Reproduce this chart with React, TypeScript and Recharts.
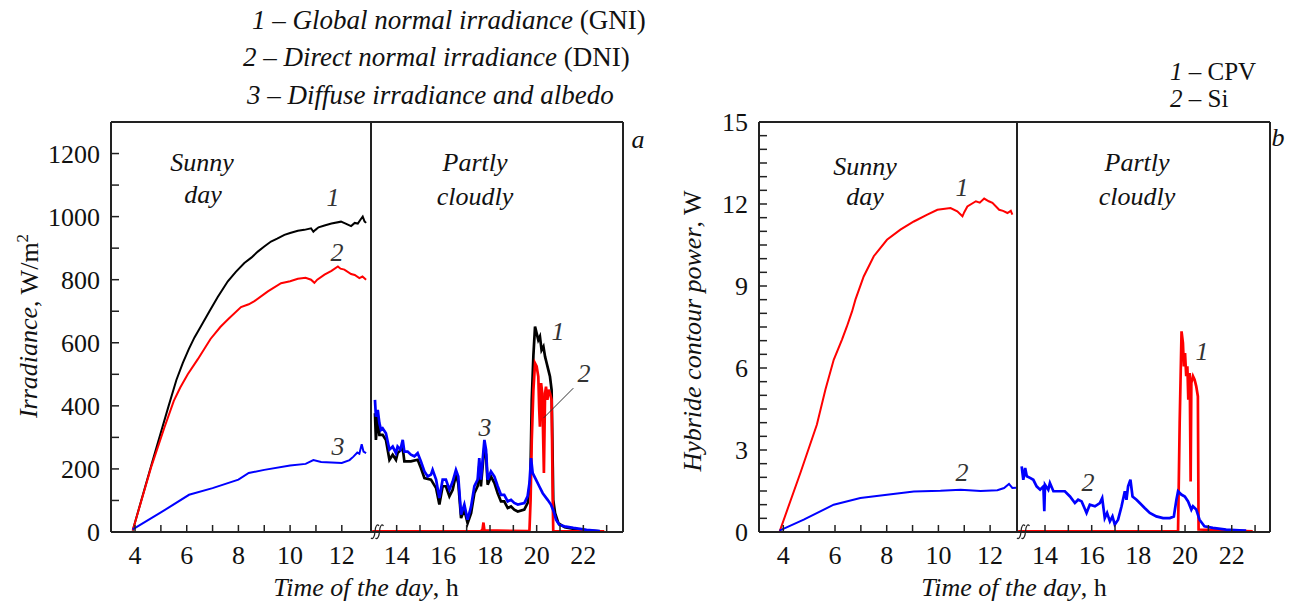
import { LineChart, Line, XAxis, YAxis, ReferenceLine } from 'recharts'

const FONT = '"Liberation Serif", "Times New Roman", serif'
const AXIS = '#222'

// panel a: irradiance, W/m2 — sunny day
const gniSunny = [
  [3.91, 5], [4.68, 226], [5.3, 400], [5.6, 482], [5.85, 536], [6.08, 580], [6.3, 617], [6.55, 652],
  [6.88, 700], [7.2, 745], [7.59, 795], [7.9, 825], [8.23, 853], [8.5, 870], [8.75, 889], [9.0, 905],
  [9.26, 921], [9.5, 930], [9.78, 942], [10.0, 948], [10.3, 955], [10.55, 958], [10.81, 963], [10.9, 952],
  [10.98, 958], [11.1, 966], [11.33, 972], [11.6, 978], [11.97, 984], [12.15, 978], [12.36, 970],
  [12.5, 980], [12.62, 978], [12.72, 990], [12.81, 1000], [12.88, 985], [12.94, 980],
]
const dniSunny = [
  [3.91, 5], [4.62, 205], [5.14, 332], [5.5, 416], [5.75, 458], [6.04, 500], [6.43, 548], [6.92, 612],
  [7.3, 650], [7.59, 674], [8.1, 713], [8.4, 722], [8.62, 732], [9.14, 763], [9.65, 789], [10.0, 795],
  [10.3, 803], [10.6, 806], [10.81, 800], [10.94, 790], [11.05, 800], [11.33, 816], [11.6, 828],
  [11.85, 842], [11.95, 835], [12.1, 832], [12.36, 818], [12.5, 815], [12.68, 805], [12.8, 810], [12.94, 800],
]
const difSunny = [
  [3.91, 8], [5.0, 62], [6.09, 118], [7.0, 139], [8.0, 166], [8.4, 187], [9.0, 197], [10.0, 211],
  [10.6, 216], [10.9, 228], [11.2, 222], [12.0, 219], [12.3, 228], [12.45, 239], [12.6, 252],
  [12.68, 248], [12.77, 278], [12.84, 255], [12.94, 250],
]

// panel a: partly cloudy day
const gniCloudy = [
  [13.07, 377], [13.11, 292], [13.19, 366], [13.26, 308], [13.4, 308], [13.54, 292], [13.69, 229],
  [13.83, 245], [13.97, 229], [14.04, 250], [14.26, 266], [14.33, 224], [14.61, 224], [14.9, 229],
  [15.04, 203], [15.19, 171], [15.47, 166], [15.69, 139], [15.83, 87], [15.97, 145], [16.11, 145],
  [16.26, 113], [16.4, 134], [16.54, 182], [16.64, 155], [16.76, 44], [16.9, 71], [17.04, 28],
  [17.19, 60], [17.33, 123], [17.47, 145], [17.54, 210], [17.61, 145], [17.76, 271], [17.83, 245],
  [17.9, 150], [18.04, 176], [18.19, 155], [18.33, 123], [18.47, 97], [18.61, 97], [18.76, 76],
  [18.9, 81], [19.04, 71], [19.19, 65], [19.47, 71], [19.61, 92], [19.73, 166], [19.79, 419],
  [19.86, 560], [19.93, 651], [20.0, 630], [20.07, 609], [20.14, 620], [20.21, 577], [20.29, 588],
  [20.36, 556], [20.43, 535], [20.5, 514], [20.57, 493], [20.64, 451], [20.69, 208], [20.71, 102],
  [20.79, 60], [20.93, 28], [21.2, 15], [21.6, 10], [22.1, 5], [22.7, 2],
]
const dniCloudy = [
  [12.95, 2], [17.6, 2], [17.68, 8], [17.72, 30], [17.76, 5], [19.69, 3], [19.74, 102], [19.79, 292],
  [19.86, 450], [19.93, 535], [20.0, 525], [20.07, 493], [20.11, 387], [20.14, 334], [20.19, 472],
  [20.24, 440], [20.31, 187], [20.36, 440], [20.4, 461], [20.46, 419], [20.51, 451], [20.57, 440],
  [20.64, 419], [20.69, 102], [20.71, 3], [22.9, 2],
]
const difCloudy = [
  [13.07, 419], [13.11, 366], [13.19, 387], [13.26, 345], [13.33, 324], [13.4, 329], [13.54, 313],
  [13.69, 261], [13.83, 271], [13.97, 250], [14.04, 271], [14.16, 261], [14.26, 292], [14.33, 255],
  [14.47, 255], [14.61, 245], [14.76, 240], [14.9, 250], [15.04, 224], [15.19, 192], [15.33, 176],
  [15.47, 182], [15.54, 197], [15.69, 166], [15.83, 108], [15.97, 166], [16.11, 166], [16.26, 134],
  [16.4, 160], [16.54, 197], [16.64, 176], [16.76, 55], [16.9, 87], [17.04, 39], [17.19, 81],
  [17.33, 145], [17.47, 166], [17.54, 234], [17.61, 166], [17.76, 292], [17.83, 261], [17.9, 166],
  [18.04, 192], [18.19, 176], [18.33, 145], [18.47, 118], [18.61, 118], [18.76, 97], [18.9, 102],
  [19.04, 92], [19.19, 87], [19.47, 92], [19.61, 113], [19.69, 155], [19.76, 234], [19.83, 187],
  [19.97, 166], [20.11, 145], [20.26, 123], [20.47, 102], [20.61, 87], [20.73, 65], [20.83, 39],
  [20.97, 23], [21.19, 18], [21.57, 13], [22.14, 7], [22.71, 3],
]

// panel b: hybrid contour power, W
const cpvSunny = [
  [3.85, 0], [4.66, 2.16], [5.3, 3.93], [5.63, 5.21], [5.95, 6.3], [6.27, 7.04], [6.46, 7.52],
  [6.66, 8.07], [6.79, 8.5], [7.11, 9.35], [7.5, 10.09], [8.01, 10.69], [8.53, 11.06], [9.05, 11.36],
  [9.57, 11.61], [9.96, 11.79], [10.47, 11.85], [10.73, 11.73], [10.93, 11.55], [11.0, 11.7],
  [11.12, 11.91], [11.45, 12.1], [11.6, 12.05], [11.77, 12.2], [11.95, 12.1], [12.09, 12.04],
  [12.35, 11.79], [12.5, 11.75], [12.67, 11.67], [12.8, 11.75], [12.86, 11.61],
]
const siSunny = [
  [3.85, 0.05], [4.79, 0.45], [5.95, 1.0], [6.98, 1.24], [8.01, 1.36], [9.05, 1.48], [10.08, 1.51],
  [10.86, 1.55], [11.63, 1.5], [12.28, 1.53], [12.54, 1.61], [12.73, 1.76], [12.86, 1.61], [13.0, 1.62],
]
const cpvCloudy = [
  [12.85, 0.02], [19.7, 0.02], [19.77, 3.99], [19.85, 7.34], [19.91, 6.91], [19.95, 6.06], [20.0, 6.55],
  [20.05, 5.7], [20.1, 6.06], [20.14, 4.84], [20.2, 5.82], [20.24, 1.85], [20.27, 5.45], [20.34, 5.7],
  [20.41, 5.57], [20.48, 5.33], [20.55, 4.96], [20.58, 0.09], [22.9, 0.02],
]
const siCloudy = [
  [13.0, 2.4], [13.07, 1.91], [13.15, 2.34], [13.22, 2.04], [13.36, 1.98], [13.5, 1.91], [13.64, 1.67],
  [13.79, 1.55], [13.93, 1.67], [13.97, 0.76], [14.0, 1.73], [14.14, 1.55], [14.21, 1.79], [14.36, 1.49],
  [14.57, 1.49], [14.85, 1.49], [15.07, 1.3], [15.28, 1.06], [15.42, 1.18], [15.57, 1.12], [15.78, 0.7],
  [15.92, 1.0], [16.14, 0.94], [16.35, 1.06], [16.45, 1.24], [16.56, 0.51], [16.66, 0.7], [16.78, 0.39],
  [16.89, 0.57], [16.99, 0.27], [17.13, 0.45], [17.28, 0.94], [17.42, 1.49], [17.49, 1.18], [17.56, 1.67],
  [17.66, 1.91], [17.75, 1.3], [17.92, 1.18], [18.06, 1.06], [18.27, 0.88], [18.49, 0.7], [18.77, 0.57],
  [19.06, 0.51], [19.35, 0.51], [19.52, 0.57], [19.63, 1.18], [19.7, 1.49], [19.84, 1.37], [19.99, 1.3],
  [20.13, 1.12], [20.27, 0.82], [20.34, 0.94], [20.48, 0.82], [20.62, 0.45], [20.83, 0.21], [21.19, 0.15],
  [21.76, 0.09], [22.33, 0.06], [22.62, 0.05],
]

const sunTicks = [4, 5, 6, 7, 8, 9, 10, 11, 12]
const cloudTicks = [14, 15, 16, 17, 18, 19, 20, 21, 22, 23]
const irrTicks = [0, 100, 200, 300, 400, 500, 600, 700, 800, 900, 1000, 1100, 1200]
const powTicks = [0, 0.5, 1, 1.5, 2, 2.5, 3, 3.5, 4, 4.5, 5, 5.5, 6, 6.5, 7, 7.5, 8, 8.5, 9, 9.5, 10, 10.5, 11, 11.5, 12, 12.5, 13, 13.5, 14, 14.5, 15]

const pts = (a: number[][]) => a.map(([t, v]) => ({ t, v }))

type Series = { data: number[][]; color: string }

const TOP = 122
const H = 610
const BOTTOM = 532
const line = { stroke: AXIS, strokeWidth: 2 }
const tickFont = { fontSize: 26, fill: '#111', fontFamily: FONT }

// inward tick marks, labels drawn by hand
const XTick = ({ x, y, payload }: any) => (
  <g>
    <line x1={x} x2={x} y1={y} y2={y - 7} stroke={AXIS} strokeWidth={1.5} />
    {payload.value % 2 === 0 && (
      <text x={x} y={y + 32} textAnchor="middle" {...tickFont}>{payload.value}</text>
    )}
  </g>
)
const makeYTick = (label: (v: number) => string) => ({ x, y, payload }: any) => (
  <g>
    <line x1={x} x2={x + 8} y1={y} y2={y} stroke={AXIS} strokeWidth={1.5} />
    <text x={x - 11} y={y} dy="0.35em" textAnchor="end" {...tickFont}>{label(payload.value)}</text>
  </g>
)

function Section(props: {
  left: number; plotLeft: number; plotW: number; xDomain: number[]; xTicks: number[]
  yMax: number; yTicks: number[]; yLabel?: (v: number) => string; series: Series[]; width: number
  extra?: any
}) {
  const { left, plotLeft, plotW, xDomain, xTicks, yMax, yTicks, yLabel, series, width } = props
  const chartW = plotLeft + plotW + 10
  return (
    <div style={{ position: 'absolute', left, top: 0 }}>
      <LineChart width={chartW} height={H} margin={{ top: TOP - 1, right: 9, bottom: H - BOTTOM - 40, left: 0 }}>
        <XAxis dataKey="t" type="number" domain={xDomain} allowDataOverflow ticks={xTicks} interval={0}
          height={40} tickSize={0} tickMargin={0} axisLine={line} tickLine={false} tick={<XTick />} />
        <XAxis xAxisId="top" orientation="top" type="number" domain={xDomain} allowDataOverflow
          height={1} tick={false} tickLine={false} axisLine={line} />
        {yLabel ? (
          <YAxis type="number" domain={[0, yMax]} allowDataOverflow ticks={yTicks} interval={0} width={plotLeft}
            tickSize={0} tickMargin={0} axisLine={line} tickLine={false} tick={makeYTick(yLabel)} />
        ) : (
          <YAxis type="number" domain={[0, yMax]} allowDataOverflow hide width={0} />
        )}
        <YAxis yAxisId="r" orientation="right" type="number" domain={[0, yMax]} width={1}
          tick={false} tickLine={false} axisLine={line} />
        {series.map((s, i) => (
          <Line key={i} data={pts(s.data)} dataKey="v" type="linear" stroke={s.color} strokeWidth={width}
            dot={false} activeDot={false} isAnimationActive={false} />
        ))}
        {props.extra}
      </LineChart>
    </div>
  )
}

const Note = ({ x, y, children, size = 26, color = '#111', italic = true, rotate = false }: any) => (
  <div style={{
    position: 'absolute', left: x, top: y, whiteSpace: 'nowrap', lineHeight: 1, fontSize: size, color,
    fontFamily: FONT, fontStyle: italic ? 'italic' : 'normal',
    transform: `translate(-50%, -50%)${rotate ? ' rotate(-90deg)' : ''}`,
  }}>{children}</div>
)

const Leg = ({ x, y, size = 27, children }: any) => (
  <div style={{ position: 'absolute', left: x, top: y - size / 2, whiteSpace: 'nowrap', lineHeight: 1, fontSize: size, color: '#111', fontFamily: FONT }}>
    {children}
  </div>
)

const Break = ({ x }: { x: number }) => (
  <svg style={{ position: 'absolute', left: x, top: 523 }} width={15} height={18}>
    <path d="M1,15 Q3,17 4.5,12 L5.5,5 Q7,0 9,3" stroke={AXIS} strokeWidth={1.2} fill="none" />
    <path d="M5.5,15 Q7.5,17 9,12 L10,5 Q11.5,0 13.5,3" stroke={AXIS} strokeWidth={1.2} fill="none" />
  </svg>
)

const irrLabel = (v: number) => (v % 200 === 0 ? String(v) : '')
const powLabel = (v: number) => (v % 3 === 0 ? String(v) : '')
const gray = '#333'

export default function App() {
  return (
    <div style={{ position: 'absolute', left: 0, top: 0, width: 1308, height: 610, background: '#fff', overflow: 'hidden' }}>
      {/* panel a */}
      <Section left={0} plotLeft={111} plotW={260} xDomain={[3.07, 13.13]} xTicks={sunTicks}
        yMax={1300} yTicks={irrTicks} yLabel={irrLabel} width={2}
        series={[{ data: gniSunny, color: '#000' }, { data: dniSunny, color: '#f00' }, { data: difSunny, color: '#00f' }]} />
      <Section left={371} plotLeft={0} plotW={252} xDomain={[12.9, 23.7]} xTicks={cloudTicks}
        yMax={1300} yTicks={irrTicks} width={2.7}
        series={[{ data: gniCloudy, color: '#000' }, { data: dniCloudy, color: '#f00' }, { data: difCloudy, color: '#00f' }]}
        extra={<ReferenceLine segment={[{ x: 20.29, y: 361 }, { x: 21.57, y: 456 }]} stroke={gray} strokeWidth={1} />} />
      <Break x={370} />

      {/* panel b */}
      <Section left={648} plotLeft={111} plotW={258} xDomain={[3.06, 13.04]} xTicks={sunTicks}
        yMax={15} yTicks={powTicks} yLabel={powLabel} width={2}
        series={[{ data: cpvSunny, color: '#f00' }, { data: siSunny, color: '#00f' }]} />
      <Section left={1017} plotLeft={0} plotW={253} xDomain={[12.8, 23.64]} xTicks={cloudTicks}
        yMax={15} yTicks={powTicks} width={2.7}
        series={[{ data: cpvCloudy, color: '#f00' }, { data: siCloudy, color: '#00f' }]} />
      <Break x={1016} />

      {/* legends */}
      <Leg x={252} y={20}><i>1 – Global normal irradiance</i> (GNI)</Leg>
      <Leg x={243} y={57}><i>2 – Direct normal irradiance</i> (DNI)</Leg>
      <Leg x={247} y={95}><i>3 – Diffuse irradiance and albedo</i></Leg>
      <Leg x={1170} y={71} size={25}><i>1</i> – CPV</Leg>
      <Leg x={1170} y={98} size={25}><i>2</i> – Si</Leg>

      {/* panel a notes */}
      <Note x={202} y={163}>Sunny</Note>
      <Note x={203} y={195}>day</Note>
      <Note x={475} y={163}>Partly</Note>
      <Note x={475} y={197}>cloudly</Note>
      <Note x={333} y={198} color={gray}>1</Note>
      <Note x={337} y={253} color={gray}>2</Note>
      <Note x={338} y={447} color={gray}>3</Note>
      <Note x={485} y={428} color={gray}>3</Note>
      <Note x={558} y={332} color={gray}>1</Note>
      <Note x={584} y={374} color={gray}>2</Note>
      <Note x={638} y={140}>a</Note>
      <Note x={28} y={326} rotate><i>Irradiance</i><span style={{ fontStyle: 'normal' }}>, W/m<sup style={{ fontSize: 17 }}>2</sup></span></Note>
      <Note x={366} y={588}>Time of the day<span style={{ fontStyle: 'normal' }}>, h</span></Note>

      {/* panel b notes */}
      <Note x={865} y={167}>Sunny</Note>
      <Note x={865} y={197}>day</Note>
      <Note x={1137} y={163}>Partly</Note>
      <Note x={1137} y={197}>cloudly</Note>
      <Note x={962} y={188} color={gray}>1</Note>
      <Note x={962} y={473} color={gray}>2</Note>
      <Note x={1202} y={352} color={gray}>1</Note>
      <Note x={1088} y={483} color={gray}>2</Note>
      <Note x={1278} y={138}>b</Note>
      <Note x={693} y={331} rotate>Hybride contour power<span style={{ fontStyle: 'normal' }}>, W</span></Note>
      <Note x={1014} y={588}>Time of the day<span style={{ fontStyle: 'normal' }}>, h</span></Note>
    </div>
  )
}
